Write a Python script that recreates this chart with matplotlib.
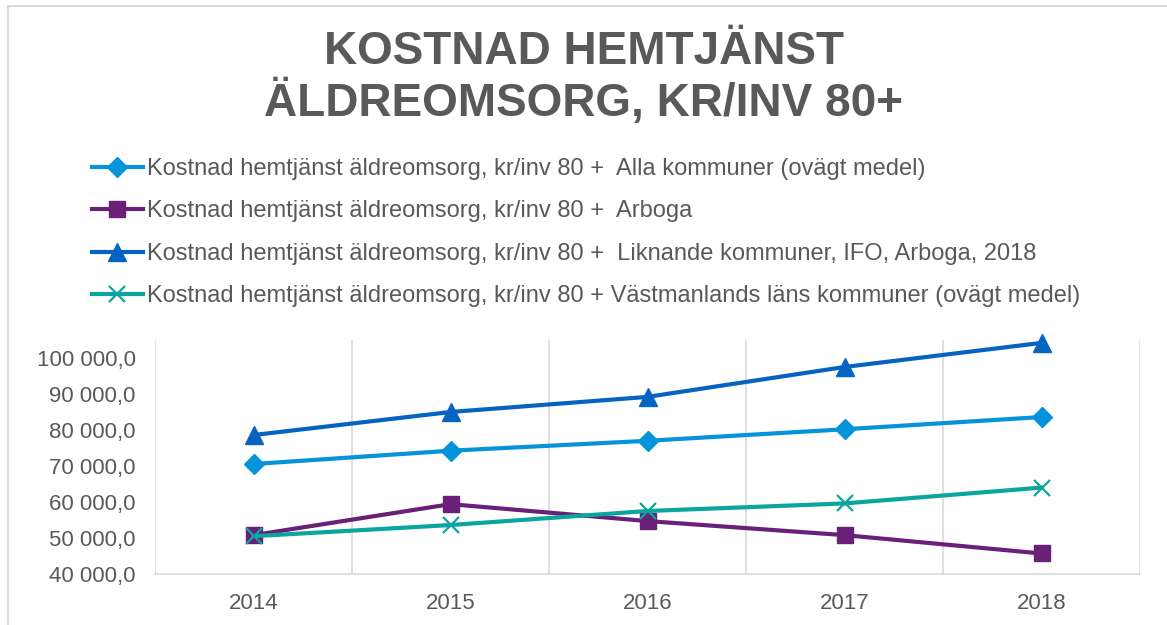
import matplotlib
matplotlib.use("Agg")
import matplotlib.pyplot as plt
from matplotlib.ticker import FuncFormatter, FixedLocator
from matplotlib.patches import Rectangle

plt.rcParams['font.family'] = ['Liberation Sans', 'DejaVu Sans']

years = [2014, 2015, 2016, 2017, 2018]
alla = [70550, 74250, 77000, 80200, 83600]
arboga = [50800, 59400, 54700, 50800, 45700]
liknande = [78600, 85000, 89200, 97500, 104200]
vastmanland = [50500, 53600, 57500, 59600, 64000]

labels = [
    "Kostnad hemtjänst äldreomsorg, kr/inv 80 +  Alla kommuner (ovägt medel)",
    "Kostnad hemtjänst äldreomsorg, kr/inv 80 +  Arboga",
    "Kostnad hemtjänst äldreomsorg, kr/inv 80 +  Liknande kommuner, IFO, Arboga, 2018",
    "Kostnad hemtjänst äldreomsorg, kr/inv 80 + Västmanlands läns kommuner (ovägt medel)",
]
title_lines = ["KOSTNAD HEMTJÄNST", "ÄLDREOMSORG, KR/INV 80+"]

gray = "#595959"
fig = plt.figure(figsize=(11.67, 6.25), dpi=100)
fig.patches.append(Rectangle((8 / 1167, -0.1), 1.2, 1 - 6 / 625 + 0.1, transform=fig.transFigure,
                             fill=False, edgecolor="#d9d9d9", linewidth=1.5))

ax = fig.add_axes([155 / 1167, 1 - 574 / 625, (1140 - 155) / 1167, (574 - 340) / 625])

series = [
    (alla, "#0593D9", "D", 10.5),
    (arboga, "#6A1F79", "s", 11.5),
    (liknande, "#0563C1", "^", 12.5),
    (vastmanland, "#0AA59F", "x", 11),
]
handles = []
for (vals, col, mk, ms), lab in zip(series, labels):
    h, = ax.plot(years, vals, color=col, marker=mk, markersize=ms, linewidth=3.0,
                 markeredgewidth=1.6 if mk == "x" else 1.0, markeredgecolor=col,
                 markerfacecolor=col, label=lab, clip_on=False, zorder=3)
    handles.append(h)

ax.set_xlim(2013.5, 2018.5)
ax.set_ylim(40000, 105000)
ax.set_yticks(range(40000, 100001, 10000))
ax.yaxis.set_major_formatter(FuncFormatter(lambda v, p: f"{v:,.1f}".replace(",", " ").replace(".", ",")))
ax.set_xticks(years)
ax.xaxis.set_minor_locator(FixedLocator([2013.5, 2014.5, 2015.5, 2016.5, 2017.5, 2018.5]))
ax.grid(True, which="minor", axis="x", color="#d9d9d9", linewidth=1.2)
ax.tick_params(which="both", length=0)
ax.tick_params(axis="y", labelsize=16, labelcolor=gray, pad=14)
ax.tick_params(axis="x", labelsize=16, labelcolor=gray, pad=14)
for s in ["top", "left", "right"]:
    ax.spines[s].set_visible(False)
ax.spines["bottom"].set_color("#d9d9d9")
ax.spines["bottom"].set_linewidth(1.2)

fig.text(0.5, 1 - 52 / 625, title_lines[0], ha="center", va="center", fontsize=33,
         fontweight="bold", color=gray)
fig.text(0.5, 1 - 103 / 625, title_lines[1], ha="center", va="center", fontsize=33,
         fontweight="bold", color=gray)

leg = fig.legend(handles=handles, loc="upper left", bbox_to_anchor=(80 / 1167, 1 - 146 / 625),
                 frameon=False, fontsize=17, handlelength=2.15, handletextpad=0.2,
                 labelspacing=0.87, borderpad=0)
for t in leg.get_texts():
    t.set_color(gray)

fig.savefig("out.png", dpi=100)
